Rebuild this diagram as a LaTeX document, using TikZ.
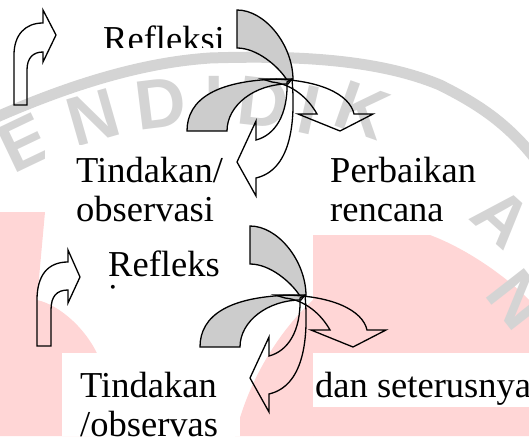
\documentclass[tikz,border=0pt]{standalone}
\usepackage{fontspec}
\setmainfont{Liberation Serif}
\newfontfamily\wmfont{Liberation Sans}
\definecolor{bladegray}{RGB}{204,204,204}
\definecolor{wmgray}{RGB}{212,212,212}
\definecolor{wmpink}{RGB}{255,214,214}
\begin{document}
\begin{tikzpicture}[x=1pt,y=-1pt,
  outline/.style={draw=black,line width=1.3pt,line join=miter},
  blade/.style={outline,fill=bladegray},
  txt/.style={font=\fontsize{36.5}{40}\selectfont,inner sep=0pt,anchor=base west},
  wmletter/.style={font=\wmfont\bfseries\fontsize{70}{70}\selectfont,text=wmgray,inner sep=0pt},
  paper/.style={fill=white,draw=none},
  cyclepic/.pic={
    % two shaded bands
    \path[blade] (237,10) -- (237,48) .. controls (257,48) and (278,66) .. (287,80)
      -- (293,80) .. controls (293,45) and (265,10) .. (237,10) -- cycle;
    \path[blade] (292,79) .. controls (215,78) and (187,100) .. (187,131)
      -- (227,131) .. controls (227,105) and (255,84) .. (288,84) -- cycle;
    % arrow bending to the right
    \path[outline] (262,79) .. controls (320,78) and (350,95) .. (354,114)
      -- (373,114) -- (340,131) -- (298,114) -- (317,114)
      .. controls (308,98) and (292,84) .. (272,82) -- cycle;
    % arrow bending down and to the left
    \path[outline] (292,79) .. controls (296,125) and (290,170) .. (256,178)
      -- (256,196) -- (237,162) -- (256,121) -- (256,140)
      .. controls (275,135) and (288,115) .. (287,82) -- cycle;
  }]
\useasboundingbox (0,0) rectangle (529,436);

% faint emblem in the background
\begin{scope}
  \clip (0,0) rectangle (529,436);
  \fill[wmpink] (0,212) -- (45,212) -- (37,300)
    .. controls (60,305) and (88,330) .. (100,360) -- (100,436) -- (0,436) -- cycle;
  \fill[wmpink] (235,436) .. controls (248,380) and (280,330) .. (313,300)
    -- (313,436) -- cycle;
  \fill[wmpink] (313,235) -- (430,235)
    .. controls (470,250) and (510,280) .. (529,300) -- (529,436) -- (313,436) -- cycle;
  \draw[wmgray,line width=11pt] (-10,120) .. controls (80,80) and (150,62) .. (210,58)
    .. controls (300,55) and (380,60) .. (440,85)
    .. controls (480,105) and (510,125) .. (540,165);
  \foreach \ch/\a in {E/115.5,N/106,D/97,I/90,D/83.5,I/77.5}
    \node[wmletter,rotate=\a-90] at ({214+440*cos(\a)},{540-440*sin(\a)}) {\ch};
  \node[wmletter,rotate=-19.5] (wmK) at (362,110) {K};
  \node[wmletter,rotate=-42] (wmA) at (502,218) {A};
  \node[wmletter,rotate=-52] (wmN) at (518,300) {N};
\end{scope}

% plain paper behind the text boxes
\fill[paper] (95,0) rectangle (232,50);
\fill[paper] (45,145) rectangle (240,300);
\fill[paper] (313,145) rectangle (450,235);
\fill[paper] (62,353) rectangle (240,436);
\fill[paper] (313,353) rectangle (529,407);

% first round
\pic at (0,0) {cyclepic};
\path[outline] (14,105) -- (14,55) .. controls (14,35) and (25,23) .. (43,23)
  -- (43,10) -- (56,35) -- (43,62) -- (43,52)
  .. controls (33,52) and (27,58) .. (27,70) -- (27,105) -- cycle;
\begin{scope}
  \clip (95,0) rectangle (232,48);
  \node[txt] (refl1) at (103,52) {Refleksi};
\end{scope}
\node[txt] (tind1) at (76,182) {Tindakan/};
\node[txt] (obs1) at (76,221) {observasi};
\node[txt] (perb1) at (330,182) {Perbaikan};
\node[txt] (renc1) at (330,221) {rencana};

% second round
\pic at (13,216) {cyclepic};
\path[outline] (37,346) -- (37,300) .. controls (37,275) and (48,262) .. (68,262)
  -- (68,250) -- (80,277) -- (68,303) -- (68,290)
  .. controls (57,290) and (51,296) .. (51,310) -- (51,346) -- cycle;
\begin{scope}
  \clip (95,230) rectangle (232,289);
  \node[txt] (refl2) at (108,276) {Refleks};
  \node[txt] (refl2b) at (108,309) {i};
\end{scope}
\node[txt] (tind2) at (80,397) {Tindakan};
\node[txt] (obs2) at (80,436) {/observas};
\node[txt] (dan2) at (315,397) {dan seterusnya};
\end{tikzpicture}
\end{document}
